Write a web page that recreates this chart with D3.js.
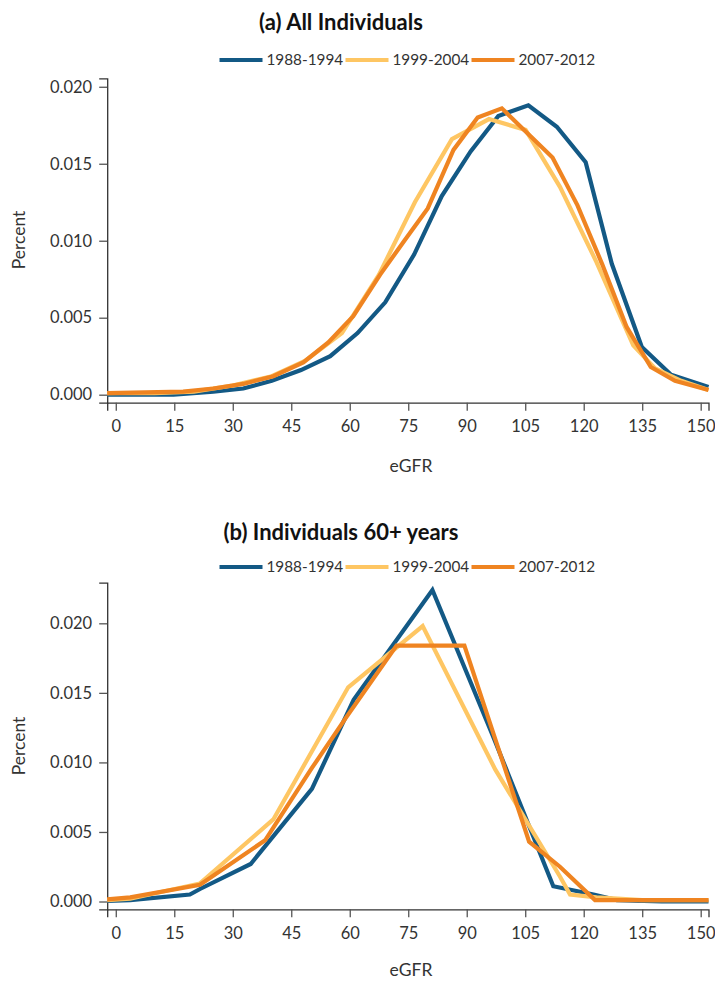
<!DOCTYPE html>
<html>
<head>
<meta charset="utf-8">
<script src="https://cdn.jsdelivr.net/npm/d3@7"></script>
<style>
  html, body { margin: 0; padding: 0; background: #fff; }
  svg { display: block; }
  text { font-family: Lato, "Open Sans", sans-serif; }
</style>
</head>
<body>
<svg id="chart" width="715" height="981"></svg>
<script>
// ---------------- DATA ----------------
const seriesNames = ["1988-1994", "1999-2004", "2007-2012"];
const xTicks = [0, 15, 30, 45, 60, 75, 90, 105, 120, 135, 150];
const yTicks = [0, 0.005, 0.010, 0.015, 0.020];

// (a) All individuals
const a1988x = [-2.2, 14.8, 25, 32.7, 40, 47.5, 55, 62, 69.1, 76.5, 83.6, 91, 98.1, 105.8, 113.1, 120.5, 127.2, 134.9, 142.4, 152];
const a1988y = [0, 0, 0.0002, 0.0004, 0.0009, 0.0016, 0.0025, 0.0040, 0.0060, 0.0091, 0.0129, 0.0158, 0.0181, 0.0188, 0.0174, 0.0151, 0.0085, 0.0031, 0.0013, 0.0005];
const a1999x = [-2.2, 10, 20, 30, 40, 48.5, 58, 67.5, 76.7, 86.2, 95.7, 105.1, 113.9, 123.3, 132.7, 138.3, 145, 152];
const a1999y = [0.0001, 0.0001, 0.0002, 0.0006, 0.0012, 0.0022, 0.0040, 0.0078, 0.0125, 0.0166, 0.0179, 0.0172, 0.0135, 0.0086, 0.0032, 0.0017, 0.0009, 0.0003];
const a2007x = [-2.2, 17.3, 25, 32.7, 40.4, 48.1, 54.5, 60.9, 67.8, 74, 80, 86.6, 92.8, 99, 105.5, 112, 118.4, 124.7, 131, 137.2, 143.4, 152];
const a2007y = [0.0001, 0.0002, 0.0004, 0.0007, 0.0012, 0.0021, 0.0034, 0.0051, 0.0078, 0.0100, 0.0121, 0.0159, 0.0180, 0.0186, 0.0170, 0.0154, 0.0123, 0.0085, 0.0044, 0.0018, 0.0009, 0.0003];

// (b) Individuals 60+ years
const b1988x = [-2.2, 3.7, 19, 21.6, 34.6, 50.3, 61, 81.2, 97, 112.2, 122.5, 128.5, 140, 152];
const b1988y = [0.00005, 0.0001, 0.0005, 0.0009, 0.0027, 0.0081, 0.0145, 0.0224, 0.0117, 0.0011, 0.0005, 0.0001, 0, 0];
const b1999x = [-2.2, 3.7, 21.6, 40.4, 59.6, 78.7, 97.3, 107, 113.9, 116.5, 123.3, 135, 152];
const b1999y = [0.0001, 0.0002, 0.0013, 0.0059, 0.0154, 0.0198, 0.0095, 0.0050, 0.0018, 0.0005, 0.0003, 0.0001, 0.0001];
const b2007x = [-2.2, 3.7, 21.6, 38.3, 50.3, 59, 72, 89.4, 106, 113.9, 122.9, 135, 152];
const b2007y = [0.00015, 0.0003, 0.0012, 0.0044, 0.0096, 0.0132, 0.0184, 0.0184, 0.0043, 0.0025, 0.0001, 0.0001, 0.0001];

const colors = ["#135985", "#fec663", "#ef8421"];

// ---------------- DRAW ----------------
const svg = d3.select("#chart");
const zip = (xs, ys) => xs.map((x, i) => ({ x: x, y: ys[i] }));

function panel(cfg) {
  const x = d3.scaleLinear().domain([-2.2, 152]).range([107.2, 708.5]);
  const y = d3.scaleLinear().domain(cfg.yDomain).range(cfg.yRange);
  const g = svg.append("g");

  // title
  g.append("text")
    .attr("x", 341).attr("y", cfg.titleY)
    .attr("text-anchor", "middle")
    .attr("font-size", "22px").attr("font-weight", "bold").attr("fill", "#111")
    .text(cfg.title);

  // legend
  let lx = 219.5;
  seriesNames.forEach((name, i) => {
    g.append("line")
      .attr("x1", lx).attr("x2", lx + 43)
      .attr("y1", cfg.legendY).attr("y2", cfg.legendY)
      .attr("stroke", colors[i]).attr("stroke-width", 4);
    g.append("text")
      .attr("x", lx + 47).attr("y", cfg.legendY)
      .attr("dy", "0.35em")
      .attr("font-size", "15.3px").attr("fill", "#333")
      .text(name);
    lx += 126;
  });

  // axes
  const yAxis = d3.axisLeft(y).tickValues(yTicks).tickFormat(d3.format(".3f")).tickSize(8).tickPadding(7);
  const gy = g.append("g").attr("transform", "translate(107.2,0)").call(yAxis);
  const xAxis = d3.axisBottom(x).tickValues(xTicks).tickFormat(d3.format("d")).tickSize(8).tickPadding(10);
  const gx = g.append("g").attr("transform", `translate(0,${cfg.yRange[0]})`).call(xAxis);
  [gx, gy].forEach(a => {
    a.select(".domain").attr("stroke", "#333").attr("stroke-width", 1.3);
    a.selectAll(".tick line").attr("stroke", "#555").attr("stroke-width", 1.3);
    a.selectAll(".tick text").attr("font-size", "16.5px").attr("fill", "#333")
      .attr("font-family", "Lato, 'Open Sans', sans-serif");
  });

  // axis labels
  g.append("text")
    .attr("transform", `translate(19,${cfg.percentY}) rotate(-90)`)
    .attr("text-anchor", "middle").attr("dy", "0.35em")
    .attr("font-size", "17.5px").attr("fill", "#333")
    .text("Percent");
  g.append("text")
    .attr("x", 411).attr("y", cfg.egfrY)
    .attr("text-anchor", "middle").attr("dy", "0.35em")
    .attr("font-size", "17.5px").attr("fill", "#333")
    .text("eGFR");

  // lines
  const line = d3.line().x(d => x(d.x)).y(d => y(d.y));
  cfg.series.forEach((s, i) => {
    g.append("path")
      .datum(s)
      .attr("fill", "none")
      .attr("stroke", colors[i])
      .attr("stroke-width", 4.2)
      .attr("stroke-linejoin", "miter")
      .attr("d", line);
  });
}

panel({
  title: "(a) All Individuals",
  titleY: 30, legendY: 60,
  yDomain: [-0.00052, 0.02055], yRange: [402.7, 78.3],
  percentY: 240, egfrY: 466,
  series: [zip(a1988x, a1988y), zip(a1999x, a1999y), zip(a2007x, a2007y)]
});

panel({
  title: "(b) Individuals 60+ years",
  titleY: 540, legendY: 567,
  yDomain: [-0.00056, 0.02292], yRange: [909.3, 582.7],
  percentY: 746, egfrY: 970,
  series: [zip(b1988x, b1988y), zip(b1999x, b1999y), zip(b2007x, b2007y)]
});
</script>
</body>
</html>
